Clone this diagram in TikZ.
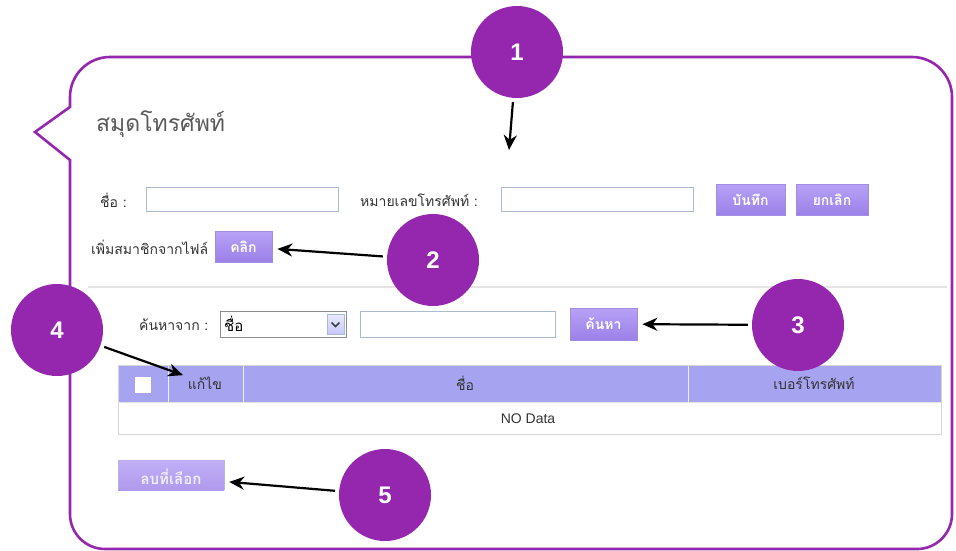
\documentclass[tikz,border=0pt]{standalone}
\usepackage{fontspec}
\setmainfont{Liberation Sans}
\newfontfamily\thai[Script=Thai]{Loma}
\usetikzlibrary{arrows.meta}
\definecolor{bubble}{HTML}{9427AE}
\definecolor{fieldline}{HTML}{A9BCCF}
\definecolor{btntop}{HTML}{B7A2F6}
\definecolor{btnbot}{HTML}{9B80E8}
\definecolor{btnline}{HTML}{A28DE2}
\definecolor{head}{HTML}{A6A4F0}
\definecolor{rule}{HTML}{E4E4E4}
\definecolor{label}{HTML}{333333}
\tikzset{
  badge/.style={circle,fill=bubble,minimum size=92pt,inner sep=0pt,
    text=white,font=\fontsize{24}{24}\selectfont\bfseries},
  arr/.style={line width=2.2pt,-{Stealth[length=15pt,width=13pt]},shorten >=5pt,shorten <=4pt},
  lbl/.style={inner sep=0pt,text=label,font=\thai\fontsize{14}{14}\selectfont},
  field/.style={draw=fieldline,line width=1pt,fill=white},
  btn/.style={draw=btnline,line width=0.8pt,top color=btntop,bottom color=btnbot,
    text=white,font=\thai\bfseries\fontsize{14}{14}\selectfont,inner sep=0pt},
}
\begin{document}
\begin{tikzpicture}[x=1pt,y=-1pt]
\useasboundingbox (0,0) rectangle (956,550);
\fill[white] (0,0) rectangle (956,550);

% speech-bubble frame
\draw[bubble,line width=2.6pt,line join=miter]
  (70,107) -- (35,132) -- (70,160) -- (70,514)
  arc[start angle=180,end angle=90,radius=35] -- (917,549)
  arc[start angle=90,end angle=0,radius=35] -- (952,97)
  arc[start angle=0,end angle=-90,radius=40] -- (110,57)
  arc[start angle=-90,end angle=-180,radius=40] -- cycle;

% title
\node[inner sep=0pt,anchor=west,text=black!65,font=\thai\fontsize{23}{23}\selectfont] (title) at (96,124) {สมุดโทรศัพท์};

% first row: name and phone number
\node[lbl,anchor=west] (lname) at (100,200) {ชื่อ :};
\node[field,minimum width=192pt,minimum height=24pt] (fname) at (242,199) {};
\node[lbl,anchor=west] (lphone) at (360,200) {หมายเลขโทรศัพท์ :};
\node[field,minimum width=192pt,minimum height=24pt] (fphone) at (597,199) {};
\node[btn,minimum width=69pt,minimum height=31pt] (bsave) at (750.5,199.5) {บันทึก};
\node[btn,minimum width=72pt,minimum height=31pt] (bcancel) at (832,199.5) {ยกเลิก};

% second row: import from file
\node[lbl,anchor=west] (limport) at (91,247) {เพิ่มสมาชิกจากไฟล์};
\node[btn,minimum width=57pt,minimum height=31pt] (bclick) at (243.5,246.5) {คลิก};

% separator
\draw[rule,line width=1.2pt] (88,287) -- (947,287);

% search row
\node[lbl,anchor=west] (lsearch) at (139,325) {ค้นหาจาก :};
\node[draw=black!45,line width=1pt,fill=white,minimum width=126pt,minimum height=26pt,inner sep=0pt] (dd) at (283,324) {};
\node[lbl,anchor=west,text=black,font=\thai\fontsize{15}{15}\selectfont] (ddtext) at (224,324) {ชื่อ};
\node[draw=fieldline,line width=0.6pt,top color=blue!8,bottom color=blue!22,minimum width=17pt,minimum height=20pt,inner sep=0pt] (ddbtn) at (335.5,324) {};
\draw[black!75,line width=1.6pt] ([xshift=-4pt,yshift=1.5pt]ddbtn.center) -- ([yshift=-2.5pt]ddbtn.center) -- ([xshift=4pt,yshift=1.5pt]ddbtn.center);
\node[field,minimum width=195pt,minimum height=26pt] (fsearch) at (457.5,324) {};
\node[btn,minimum width=67pt,minimum height=32pt] (bsearch) at (603.5,324) {ค้นหา};

% results table
\fill[head] (118,365) rectangle (941,402);
\draw[white!80!head,line width=1pt] (168,365) -- (168,402) (243,365) -- (243,402) (688,365) -- (688,402);
\draw[black!16,line width=1pt] (118,365) rectangle (941,434);
\draw[black!10,line width=1pt] (118,402) -- (941,402);
\node[fill=white,minimum size=16pt,inner sep=0pt] (chk) at (143,385) {};
\node[lbl] (cedit) at (205,383) {แก้ไข};
\node[lbl] (cname) at (465,383) {ชื่อ};
\node[lbl] (cphone) at (814,383) {เบอร์โทรศัพท์};
\node[inner sep=0pt,text=label,font=\fontsize{14}{14}\selectfont] (nodata) at (528,419) {NO Data};

% delete-selected button (cut at the bottom)
\shade[top color=btntop!85!white,bottom color=btnbot!80!white] (118,460) rectangle (224,490);
\draw[btnline!70!white,line width=0.8pt] (118,490) -- (118,460) -- (224,460) -- (224,490);
\node[inner sep=0pt,minimum width=106pt,minimum height=30pt,text=white!85!btnbot,
  font=\thai\bfseries\fontsize{15}{15}\selectfont] (bdel) at (171,477) {ลบที่เลือก};

% numbered callouts
\node[badge] (n1) at (517,52) {1};
\node[badge] (n2) at (433,260) {2};
\node[badge] (n3) at (798,325) {3};
\node[badge] (n4) at (57,330) {4};
\node[badge] (n5) at (385,495) {5};

% callout arrows
\coordinate (t1) at (509,150);
\draw[arr,shorten >=0pt] (n1) -- (t1);
\draw[arr] (n2) -- (bclick);
\draw[arr] (n3) -- (bsearch);
\draw[arr] (n4) -- (cedit);
\draw[arr] (n5) -- (bdel);
\end{tikzpicture}
\end{document}
